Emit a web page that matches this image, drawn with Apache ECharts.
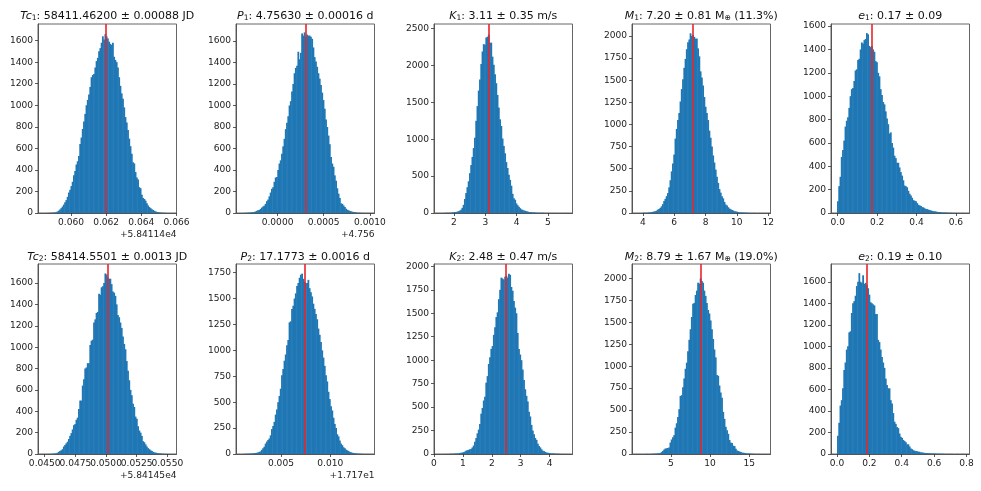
<!DOCTYPE html>
<html>
<head>
<meta charset="utf-8">
<style>
  html, body { margin: 0; padding: 0; background: #fff; }
  #chart { width: 981px; height: 491px; }
</style>
<script src="https://cdn.jsdelivr.net/npm/echarts@6/dist/echarts.min.js"></script>
</head>
<body>
<div id="chart"></div>
<script>
// histogram counts, 100 bins per panel, left to right
const tc1Counts = [0,0,1,1,2,2,3,4,5,7,14,22,32,45,60,78,100,120,150,190,215,250,290,350,390,450,480,530,640,700,780,850,920,1000,1050,1100,1170,1260,1280,1290,1350,1410,1440,1500,1530,1580,1640,1610,1660,1640,1620,1590,1570,1560,1580,1450,1420,1400,1350,1260,1180,1110,1060,980,890,840,770,690,620,550,470,460,380,330,310,240,230,170,140,130,115,90,70,55,45,35,28,20,15,10,8,6,4,3,2,2,1,1,0,0];
const p1Counts = [0,1,1,2,3,4,5,6,7,10,14,20,26,28,38,50,60,68,85,110,125,155,190,225,240,290,330,335,400,460,490,550,620,690,780,840,900,1000,1040,1130,1200,1300,1350,1370,1500,1430,1490,1670,1650,1680,1640,1660,1650,1650,1640,1620,1540,1450,1410,1360,1300,1250,1190,1120,1050,970,870,800,720,640,520,460,430,350,300,230,180,140,90,85,70,55,40,30,25,18,15,12,8,6,5,3,2,2,1,1,1,0,0,1];
const k1Counts = [0,0,1,1,2,3,3,4,5,7,9,13,15,18,25,32,45,70,110,190,270,350,430,540,650,760,880,1020,1250,1450,1660,1810,2020,2190,2290,2280,2380,2390,2420,2310,2310,2120,2010,1880,1760,1600,1430,1270,1180,1010,910,810,690,610,520,450,370,260,200,180,130,105,85,65,50,42,35,30,24,20,14,12,10,8,7,6,4,3,3,2,2,2,1,1,1,1,1,0,0,0,1,0,0,0,0,0,0,0,0,1];
const m1Counts = [0,0,1,1,2,2,3,4,5,7,10,13,16,20,26,38,46,58,75,100,135,160,190,225,290,370,470,560,660,840,950,1050,1130,1260,1400,1510,1640,1740,1850,1930,1960,2030,2000,2010,1990,1970,1970,1860,1770,1600,1530,1440,1310,1200,1130,1050,930,850,750,650,570,490,410,340,270,230,190,165,125,95,85,65,50,42,35,28,20,18,14,10,8,7,6,5,4,3,3,2,2,1,1,1,1,1,0,0,1,0,0,1];
const e1Counts = [100,230,310,480,540,620,740,790,820,900,1000,1060,1070,1130,1220,1230,1310,1320,1400,1460,1450,1480,1490,1540,1530,1430,1420,1430,1400,1380,1300,1290,1200,1170,1060,1010,950,930,870,810,760,680,690,600,560,490,470,430,430,390,350,320,280,235,230,220,190,165,150,130,110,105,100,85,70,65,60,50,48,40,35,33,28,25,22,18,15,15,12,10,8,8,6,5,4,4,3,3,2,2,2,1,1,1,1,0,1,0,0,1];
const tc2Counts = [0,0,1,1,1,2,2,3,5,6,12,20,28,35,45,70,85,100,115,140,170,195,230,270,280,320,340,420,500,500,640,700,800,810,850,850,1020,1060,1070,1230,1260,1320,1330,1500,1490,1560,1570,1600,1690,1680,1650,1640,1640,1590,1520,1510,1480,1400,1300,1280,1230,1180,1100,1030,980,870,780,690,600,550,470,440,350,330,260,220,200,170,120,110,90,70,55,45,35,28,20,15,13,10,7,6,5,3,2,2,1,1,1,0];
const p2Counts = [1,1,2,2,3,3,4,5,6,8,10,12,15,20,25,40,55,70,100,120,135,150,180,240,270,310,380,430,500,560,630,760,820,900,960,1050,1100,1270,1280,1400,1430,1500,1550,1620,1650,1700,1730,1740,1690,1660,1650,1650,1680,1600,1560,1520,1450,1400,1350,1300,1210,1150,1080,1000,930,850,760,700,600,530,460,420,350,290,250,190,170,130,100,85,65,55,42,35,28,20,16,12,10,8,5,4,3,2,2,1,1,1,0,1];
const k2Counts = [0,0,0,1,1,1,1,2,2,3,3,4,5,5,7,10,12,15,20,25,35,40,45,50,55,70,90,130,170,220,260,320,430,490,570,610,760,830,960,1030,1120,1150,1270,1350,1460,1510,1650,1750,1880,1870,1860,1890,1900,1880,1920,1910,1780,1740,1630,1560,1500,1290,1120,1060,1000,900,790,690,620,560,450,400,310,250,210,170,150,110,85,70,50,35,30,22,15,12,10,8,6,5,5,3,3,2,2,1,1,1,0,1];
const m2Counts = [0,0,0,0,0,0,1,1,1,1,2,2,3,4,5,7,8,10,22,35,50,62,65,68,75,130,165,190,215,300,350,420,510,660,670,760,860,970,1040,1170,1300,1420,1560,1710,1720,1810,1860,1950,1940,2000,1970,1950,1860,1800,1720,1640,1600,1520,1420,1310,1190,1100,900,890,780,700,640,480,400,310,270,230,160,130,125,95,90,60,40,35,28,22,15,15,12,8,6,5,5,4,3,2,2,1,1,1,1,0,0,1];
const e2Counts = [170,290,450,500,610,780,850,970,1000,1130,1140,1310,1400,1420,1470,1560,1600,1680,1600,1590,1660,1580,1590,1570,1540,1480,1410,1400,1390,1380,1300,1300,1060,1040,970,900,850,800,700,640,610,610,500,470,380,300,280,250,240,190,160,150,130,120,110,90,90,70,50,45,35,30,28,25,22,20,15,15,12,10,9,8,8,6,5,5,4,4,3,3,3,2,2,2,2,1,1,1,1,1,1,1,0,0,0,1,0,0,0,1];

// x axis ranges, with the fitted value marked in red
const tc1Range = [0.058125, 0.066];
const p1Range = [-0.00045, 0.00105];
const k1Range = [1.36, 5.79];
const m1Range = [3.3, 12.15];
const e1Range = [-0.034, 0.669];
const tc2Range = [0.04445, 0.05575];
const p2Range = [0.00044, 0.01449];
const k2Range = [0, 4.79];
const m2Range = [0.04, 17.71];
const e2Range = [-0.037, 0.8186];

const bestValues = [0.062, 0.0003, 3.11, 7.20, 0.171, 0.0501, 0.0074, 2.48, 8.79, 0.186];

// x tick labels
const tc1XTicks = ['0.060', '0.062', '0.064', '0.066'];
const p1XTicks = ['0.0000', '0.0005', '0.0010'];
const k1XTicks = ['2', '3', '4', '5'];
const m1XTicks = ['4', '6', '8', '10', '12'];
const e1XTicks = ['0.0', '0.2', '0.4', '0.6'];
const tc2XTicks = ['0.0450', '0.0475', '0.0500', '0.0525', '0.0550'];
const p2XTicks = ['0.005', '0.010'];
const k2XTicks = ['0', '1', '2', '3', '4'];
const m2XTicks = ['5', '10', '15'];
const e2XTicks = ['0.0', '0.2', '0.4', '0.6', '0.8'];

// y axis tops and ticks
const yMaxes = [1754, 1758, 2563, 2135, 1618, 1778, 1833, 2025, 2163, 1765];
const y1600 = [0, 200, 400, 600, 800, 1000, 1200, 1400, 1600];
const y1750 = [0, 250, 500, 750, 1000, 1250, 1500, 1750];
const y2000 = [0, 250, 500, 750, 1000, 1250, 1500, 1750, 2000];
const y2500 = [0, 500, 1000, 1500, 2000, 2500];

const titles = [
  '{i|Tc}{s|1}: 58411.46200 ± 0.00088 JD',
  '{i|P}{s|1}: 4.75630 ± 0.00016 d',
  '{i|K}{s|1}: 3.11 ± 0.35 m/s',
  '{i|M}{s|1}: 7.20 ± 0.81 M{s|⊕} (11.3%)',
  '{i|e}{s|1}: 0.17 ± 0.09',
  '{i|Tc}{s|2}: 58414.5501 ± 0.0013 JD',
  '{i|P}{s|2}: 17.1773 ± 0.0016 d',
  '{i|K}{s|2}: 2.48 ± 0.47 m/s',
  '{i|M}{s|2}: 8.79 ± 1.67 M{s|⊕} (19.0%)',
  '{i|e}{s|2}: 0.19 ± 0.10'
];
const offsets = ['+5.84114e4', '+4.756', '', '', '', '+5.84145e4', '+1.717e1', '', '', ''];

const counts = [tc1Counts, p1Counts, k1Counts, m1Counts, e1Counts, tc2Counts, p2Counts, k2Counts, m2Counts, e2Counts];
const ranges = [tc1Range, p1Range, k1Range, m1Range, e1Range, tc2Range, p2Range, k2Range, m2Range, e2Range];
const xTicks = [tc1XTicks, p1XTicks, k1XTicks, m1XTicks, e1XTicks, tc2XTicks, p2XTicks, k2XTicks, m2XTicks, e2XTicks];
const yTicks = [y1600, y1600, y2500, y2000, y1600, y1600, y1750, y2000, y2000, y1600];

const FONT = '"DejaVu Sans"';
const colLeft = [38, 236, 434, 632, 831];
const rowTop = [24, 264];
const panelW = 138.5;
const panelH = [189, 190];

const option = { animation: false, title: [], grid: [], xAxis: [], yAxis: [], series: [] };

counts.forEach(function (values, n) {
  const col = n % 5;
  const row = n < 5 ? 0 : 1;
  const left = colLeft[col];
  const range = ranges[n];
  const binWidth = (range[1] - range[0]) / 110;
  const binStart = range[0] + 5 * binWidth;
  const ticks = xTicks[n].map(Number);
  // echarts drops a label that overlaps the end one, so the crowded Tc2 axis gets
  // blank labels at both ends for that check to drop instead
  const labelValues = n === 5 ? [range[0]].concat(ticks, range[1]) : ticks;

  option.title.push({
    text: titles[n],
    left: left + panelW / 2,
    top: rowTop[row] - (row === 0 ? 13 : 12),
    padding: 0,
    textAlign: 'center',
    textStyle: {
      fontFamily: FONT, fontSize: 11, fontWeight: 'normal', color: '#111',
      rich: {
        i: { fontFamily: FONT, fontSize: 11, fontStyle: 'italic', color: '#111' },
        s: { fontFamily: FONT, fontSize: 7.6, color: '#111', verticalAlign: 'bottom', lineHeight: 11 }
      }
    }
  });

  option.grid.push({
    left: left, top: rowTop[row], width: panelW, height: panelH[row],
    show: true, borderColor: '#666', borderWidth: 1, backgroundColor: '#fff', containLabel: false
  });

  option.xAxis.push({
    type: 'value', gridIndex: n, min: range[0], max: range[1],
    name: offsets[n], nameLocation: 'end', nameGap: 0,
    nameTextStyle: { fontFamily: FONT, fontSize: 9.08, color: '#222', align: 'right', verticalAlign: 'top', padding: [17, 0, 0, 0] },
    splitLine: { show: false },
    axisLine: { onZero: false, lineStyle: { color: '#555', width: 1 } },
    axisTick: { length: 3, lineStyle: { color: '#333', width: 0.8 }, customValues: ticks },
    axisLabel: {
      fontFamily: FONT, fontSize: 9.08, color: '#222', margin: 5, customValues: labelValues,
      formatter: function (v) { const k = ticks.indexOf(v); return k < 0 ? '' : xTicks[n][k]; }
    }
  });

  option.yAxis.push({
    type: 'value', gridIndex: n, min: 0, max: yMaxes[n],
    splitLine: { show: false },
    axisLine: { onZero: false, lineStyle: { color: '#555', width: 1 } },
    axisTick: { length: 3, lineStyle: { color: '#333', width: 0.8 }, customValues: yTicks[n] },
    axisLabel: {
      fontFamily: FONT, fontSize: 9.08, color: '#222', margin: 5, customValues: yTicks[n],
      formatter: function (v) { return String(v); }
    }
  });

  option.series.push({
    type: 'bar', xAxisIndex: n, yAxisIndex: n, barWidth: 1.8, silent: true,
    itemStyle: { color: '#1f77b4' },
    data: values.map(function (v, i) { return [binStart + (i + 0.5) * binWidth, v]; }),
    markLine: {
      silent: true, symbol: 'none', animation: false, precision: 6, z: 10, label: { show: false },
      lineStyle: { color: '#e5262c', width: 1.6, type: 'solid', opacity: 1 },
      data: [{ xAxis: bestValues[n] }]
    }
  });
});

const chart = echarts.init(document.getElementById('chart'), null, { renderer: 'canvas' });
chart.setOption(option);
window.addEventListener('resize', function () { chart.resize(); });
</script>
</body>
</html>
